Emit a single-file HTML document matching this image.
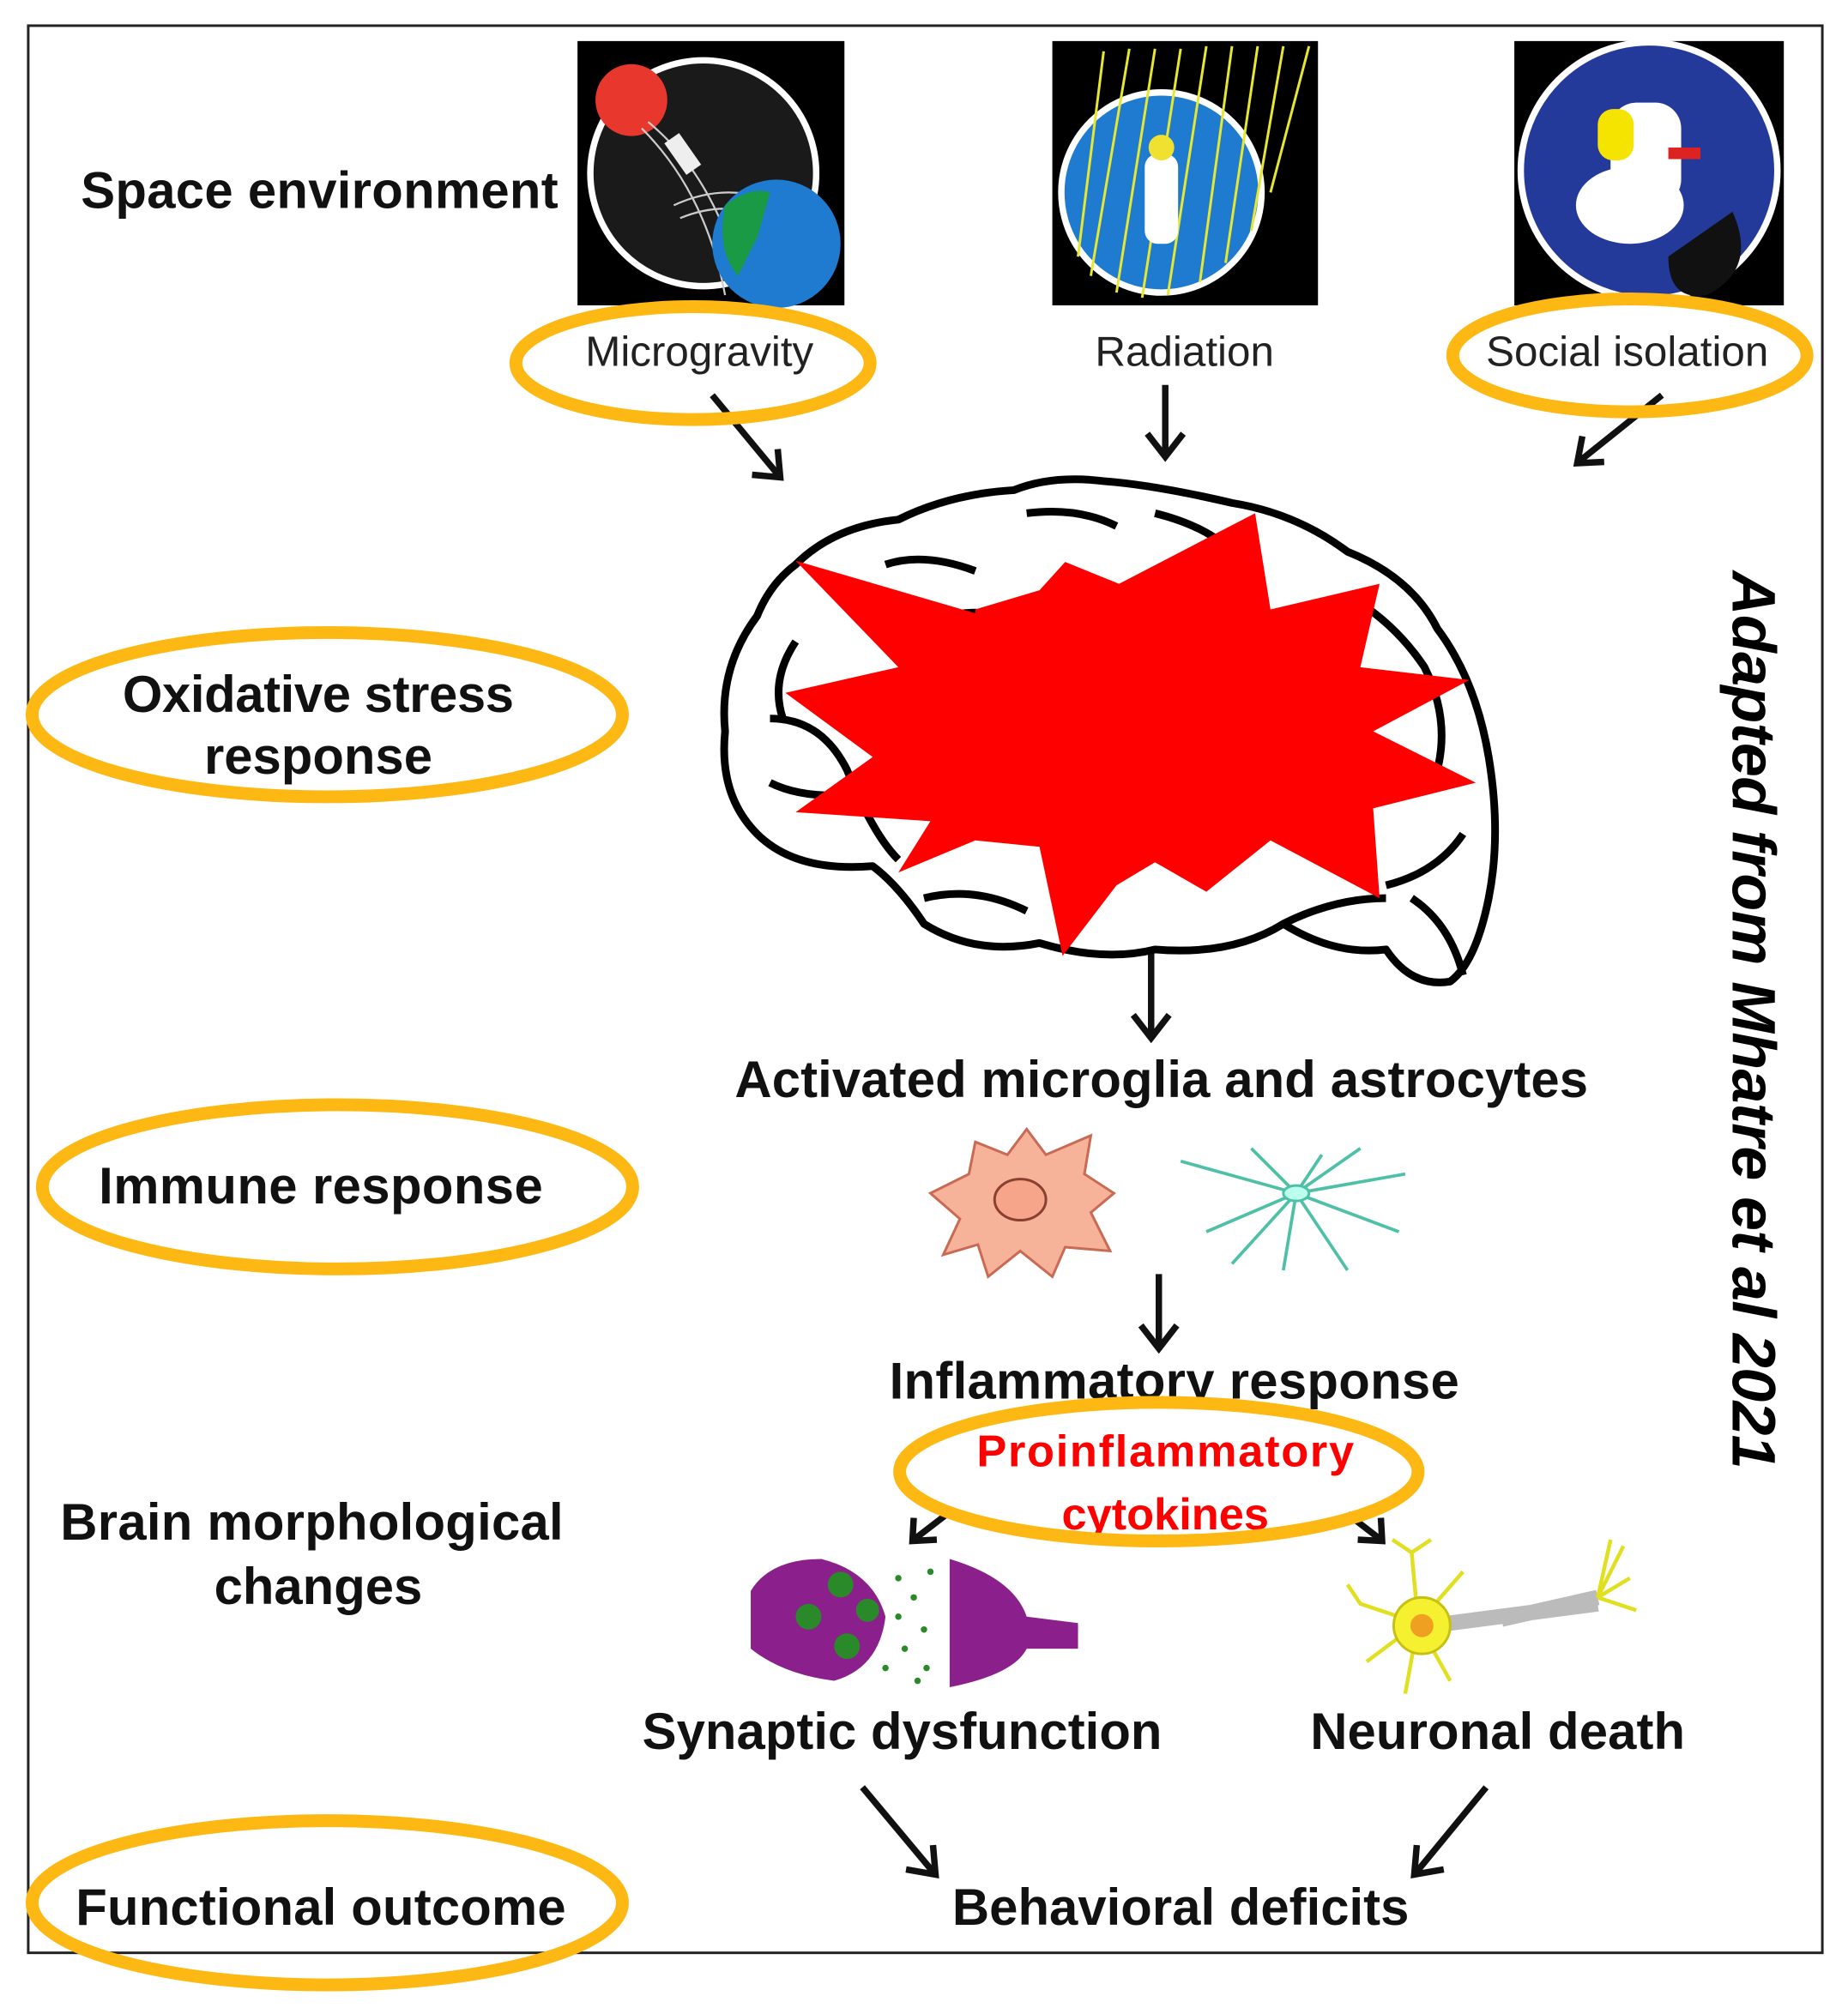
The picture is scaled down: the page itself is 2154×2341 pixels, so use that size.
<!DOCTYPE html>
<html><head><meta charset="utf-8"><style>
html,body{margin:0;padding:0;background:#fff;}
svg{display:block;}
text{font-family:"Liberation Sans",sans-serif;}
</style></head><body>
<svg width="2154" height="2341" viewBox="0 0 1440 1565" xmlns="http://www.w3.org/2000/svg">
<rect x="0" y="0" width="1440" height="1565" fill="#fff"/>
<rect x="22" y="20" width="1398" height="1502" fill="none" stroke="#222" stroke-width="2"/>

<!-- icons -->
<rect x="450" y="32" width="208" height="206" fill="#000"/>
<circle cx="548" cy="135" r="88" fill="#1a1a1a" stroke="#fff" stroke-width="5"/>
<circle cx="492" cy="78" r="28" fill="#e8372c"/>
<g fill="none" stroke="#ccc" stroke-width="1.5">
<path d="M505 95 Q560 140 580 230"/><path d="M500 100 Q550 150 565 230"/><path d="M525 160 Q590 130 650 190"/><path d="M530 170 Q590 145 645 205"/>
</g>
<rect x="525" y="105" width="14" height="30" fill="#eee" transform="rotate(-35 532 120)"/>
<circle cx="605" cy="190" r="50" fill="#1e7bd0"/>
<path d="M565 160 Q585 145 600 150 L590 185 L575 215 Q558 195 565 160Z" fill="#1a9a45"/>

<rect x="820" y="32" width="207" height="206" fill="#000"/>
<circle cx="905" cy="150" r="78" fill="#1e7bd0" stroke="#fff" stroke-width="5"/>
<g stroke="#e6e633" stroke-width="2">
<line x1="860" y1="40" x2="840" y2="200"/><line x1="880" y1="38" x2="850" y2="215"/><line x1="900" y1="38" x2="870" y2="228"/><line x1="920" y1="38" x2="890" y2="232"/><line x1="940" y1="36" x2="910" y2="230"/><line x1="960" y1="36" x2="935" y2="220"/><line x1="980" y1="36" x2="955" y2="205"/><line x1="1000" y1="36" x2="975" y2="180"/><line x1="1020" y1="36" x2="990" y2="150"/>
</g>
<rect x="892" y="120" width="26" height="70" rx="10" fill="#fff"/>
<circle cx="905" cy="115" r="10" fill="#f0e030"/>

<rect x="1180" y="32" width="210" height="206" fill="#000"/>
<circle cx="1285" cy="133" r="100" fill="#243a9a" stroke="#fff" stroke-width="5"/>
<path d="M1300 200 L1350 165 Q1370 210 1330 230 Q1300 235 1300 200Z" fill="#111"/>
<ellipse cx="1270" cy="160" rx="42" ry="30" fill="#fff"/>
<rect x="1255" y="80" width="55" height="80" rx="20" fill="#fff"/>
<rect x="1245" y="85" width="28" height="40" rx="12" fill="#f5e400"/>
<rect x="1300" y="115" width="25" height="9" fill="#d22"/>

<!-- top labels -->
<text x="63" y="162" font-size="40" font-weight="bold" fill="#111" textLength="372">Space environment</text>
<text x="545" y="285" font-size="33" text-anchor="middle" fill="#222">Microgravity</text>
<text x="923" y="285" font-size="33" text-anchor="middle" fill="#222">Radiation</text>
<text x="1268" y="285" font-size="33" text-anchor="middle" fill="#222">Social isolation</text>

<!-- arrows -->
<g stroke="#111" stroke-width="5" fill="none">
<line x1="555" y1="308" x2="608" y2="372"/><polyline points="586,370 608,372 606,350"/>
<line x1="908" y1="300" x2="908" y2="355"/><polyline points="894,338 908,356 922,338"/>
<line x1="1295" y1="308" x2="1230" y2="360"/><polyline points="1233,340 1229,361 1250,360"/>
<line x1="897" y1="740" x2="897" y2="808"/><polyline points="883,791 897,809 911,791"/>
<line x1="903" y1="993" x2="903" y2="1050"/><polyline points="889,1033 903,1051 917,1033"/>
<line x1="738" y1="1180" x2="712" y2="1200"/><polyline points="712,1183 711,1201 730,1200"/>
<line x1="1050" y1="1180" x2="1076" y2="1200"/><polyline points="1058,1200 1077,1201 1076,1183"/>
<line x1="672" y1="1393" x2="728" y2="1460"/><polyline points="706,1457 729,1461 727,1438"/>
<line x1="1158" y1="1393" x2="1103" y2="1460"/><polyline points="1104,1438 1102,1461 1125,1457"/>
</g>

<!-- brain -->
<g fill="none" stroke="#000" stroke-width="6" stroke-linejoin="round">
<path d="M620 440 Q650 410 700 405 Q740 385 790 382 Q820 370 860 375 Q900 378 960 392 Q1010 400 1050 430 Q1100 450 1120 490 Q1150 530 1160 590 Q1170 650 1160 700 Q1150 750 1130 765 Q1100 770 1080 740 Q1040 745 1000 720 Q960 745 900 740 Q860 750 810 735 Q760 745 720 720 Q700 690 680 675 Q620 680 590 650 Q560 620 565 570 Q560 520 590 480 Q600 455 620 440Z"/>
<path d="M600 560 Q640 560 660 600 Q680 650 700 670"/>
<path d="M700 500 Q740 470 780 480"/><path d="M690 440 Q720 430 760 445"/>
<path d="M1060 470 Q1090 490 1110 520 Q1130 560 1120 600"/>
<path d="M1080 690 Q1120 680 1140 650"/><path d="M720 700 Q760 690 800 710"/>
<path d="M1000 720 Q1040 700 1080 700"/><path d="M600 610 Q620 620 650 620"/>
<path d="M620 500 Q600 530 610 560"/><path d="M1100 700 Q1130 720 1140 760"/>
<path d="M800 400 Q840 395 870 410"/><path d="M900 400 Q940 410 960 430"/>
</g>
<polygon fill="#f00" points="620,437 760,478 760,475 810,460 830,438 872,455 978,400 990,475 1075,455 1060,520 1145,530 1070,570 1150,610 1070,630 1075,700 990,655 940,695 900,672 870,690 828,745 810,660 760,655 700,680 725,640 620,633 680,590 612,540 700,520"/>

<text x="905" y="855" font-size="40" font-weight="bold" text-anchor="middle" fill="#111" textLength="665">Activated microglia and astrocytes</text>

<!-- cells -->
<path d="M725 930 L755 915 L760 890 L785 900 L800 880 L815 900 L850 885 L845 915 L868 930 L850 945 L865 975 L830 972 L820 995 L795 975 L770 995 L762 970 L735 978 L748 950Z" fill="#f7b39a" stroke="#c96a55" stroke-width="2"/>
<ellipse cx="795" cy="935" rx="20" ry="16" fill="#f7a58a" stroke="#8a4030" stroke-width="2"/>
<g stroke="#4fc0a8" stroke-width="2.5" fill="none">
<path d="M1010 930 L920 905 M1010 930 L940 960 M1010 930 L960 985 M1010 930 L1030 900 M1010 930 L1060 895 M1010 930 L1095 915 M1010 930 L1090 960 M1010 930 L1050 990 M1010 930 L1000 990 M1010 930 L975 895"/>
</g>
<ellipse cx="1010" cy="930" rx="10" ry="6" fill="#bfe" stroke="#4fc0a8" stroke-width="2"/>

<text x="915" y="1090" font-size="40" font-weight="bold" text-anchor="middle" fill="#111" textLength="444">Inflammatory response</text>

<!-- synapse -->
<path d="M585 1240 Q600 1215 640 1215 Q680 1225 690 1260 Q685 1300 650 1310 Q610 1305 585 1285Z" fill="#8b1f8b"/>
<path d="M740 1215 Q790 1230 800 1260 L840 1265 L840 1285 L800 1285 Q790 1305 740 1315Z" fill="#8b1f8b"/>
<g fill="#2a8a2a"><circle cx="630" cy="1260" r="10"/><circle cx="655" cy="1235" r="10"/><circle cx="660" cy="1283" r="10"/><circle cx="676" cy="1255" r="9"/></g>
<g fill="#2a8a2a"><circle cx="700" cy="1230" r="2.5"/><circle cx="712" cy="1245" r="2.5"/><circle cx="700" cy="1260" r="2.5"/><circle cx="720" cy="1270" r="2.5"/><circle cx="705" cy="1285" r="2.5"/><circle cx="722" cy="1300" r="2.5"/><circle cx="690" cy="1300" r="2.5"/><circle cx="725" cy="1225" r="2.5"/><circle cx="715" cy="1310" r="2.5"/></g>

<!-- neuron -->
<path d="M1130 1265 L1245 1250 M1170 1262 L1245 1245" stroke="#bbb" stroke-width="12" fill="none"/>
<g stroke="#e0e020" stroke-width="3" fill="none">
<path d="M1105 1265 L1100 1210 L1085 1200 M1100 1210 L1115 1200 M1105 1265 L1060 1250 L1050 1235 M1105 1265 L1065 1295 M1105 1265 L1095 1320 M1105 1265 L1130 1310 M1105 1265 L1140 1225 M1245 1245 L1265 1205 M1245 1245 L1270 1230 M1245 1245 L1255 1200 M1245 1245 L1275 1255"/>
</g>
<circle cx="1108" cy="1267" r="22" fill="#f5f030" stroke="#c8c010" stroke-width="2"/>
<circle cx="1108" cy="1267" r="9" fill="#f0a020"/>

<text x="703" y="1363" font-size="40" font-weight="bold" text-anchor="middle" fill="#111" textLength="405">Synaptic dysfunction</text>
<text x="1167" y="1363" font-size="40" font-weight="bold" text-anchor="middle" fill="#111" textLength="292">Neuronal death</text>
<text x="920" y="1500" font-size="40" font-weight="bold" text-anchor="middle" fill="#111" textLength="356">Behavioral deficits</text>

<!-- left labels -->
<text x="248" y="555" font-size="40" font-weight="bold" text-anchor="middle" fill="#111" textLength="305">Oxidative stress</text>
<text x="248" y="603" font-size="40" font-weight="bold" text-anchor="middle" fill="#111">response</text>
<text x="250" y="938" font-size="40" font-weight="bold" text-anchor="middle" fill="#111" textLength="346">Immune response</text>
<text x="243" y="1200" font-size="40" font-weight="bold" text-anchor="middle" fill="#111" textLength="392">Brain morphological</text>
<text x="248" y="1250" font-size="40" font-weight="bold" text-anchor="middle" fill="#111">changes</text>
<text x="250" y="1500" font-size="40" font-weight="bold" text-anchor="middle" fill="#111" textLength="382">Functional outcome</text>

<text x="908" y="1143" font-size="35" font-weight="bold" text-anchor="middle" fill="#f00" textLength="294">Proinflammatory</text>
<text x="908" y="1192" font-size="35" font-weight="bold" text-anchor="middle" fill="#f00">cytokines</text>

<!-- ellipses -->
<g fill="none" stroke="#FDB813" stroke-width="10">
<ellipse cx="540" cy="283" rx="138" ry="44"/>
<ellipse cx="1270" cy="277" rx="138" ry="44"/>
<ellipse cx="255" cy="557" rx="230" ry="64"/>
<ellipse cx="263" cy="925" rx="230" ry="64"/>
<ellipse cx="903" cy="1147" rx="202" ry="54"/>
<ellipse cx="255" cy="1483" rx="230" ry="64"/>
</g>

<text transform="translate(1350 795) rotate(90)" font-size="48" font-weight="bold" font-style="italic" text-anchor="middle" fill="#000" textLength="700">Adapted from Mhatre et al 2021</text>
</svg>
</body></html>
